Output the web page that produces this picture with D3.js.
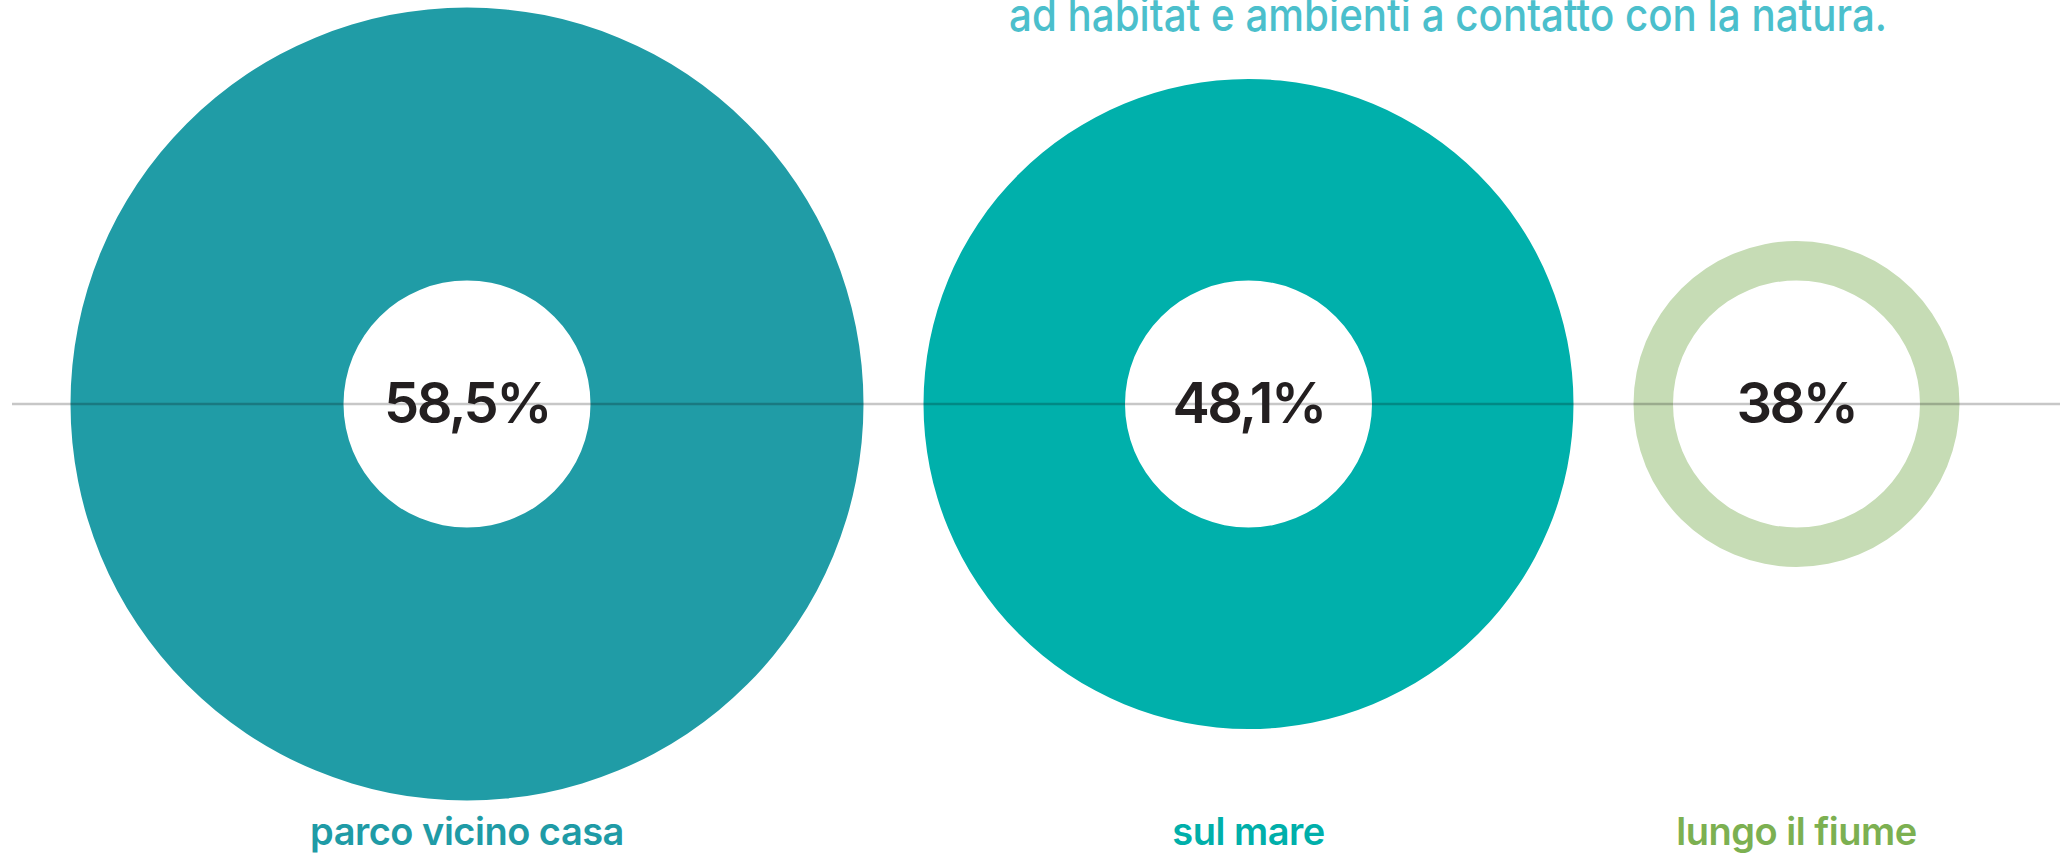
<!DOCTYPE html>
<html>
<head>
<meta charset="utf-8">
<script src="https://cdn.jsdelivr.net/npm/d3@7"></script>
<style>
    html, body { margin: 0; padding: 0; background: #ffffff; }
    svg { display: block; }
</style>
</head>
<body>
<div id="chart"></div>
<script>

// data
var places = [ 'parco vicino casa', 'sul mare', 'lungo il fiume' ];
var shares = [ 58.5, 48.1, 38 ];
var shareLabels = [ '58,5%', '48,1%', '38%' ];
var ringColors = [ '#209ca6', '#00b0ab', '#c6dcb5' ];
var labelColors = [ '#1f9ba6', '#00afaa', '#7cb051' ];
var headerLines = [ 'ad habitat e ambienti a contatto con la natura.' ];

var width = 2060,
    height = 855,
    centerY = 404,
    holeRadius = 123.5,
    gap = 60,
    left = 70.5;

// the designer did not size the circles on one straight scale,
// so the scale is piecewise
var radius = d3.scaleLinear()
    .domain([ 38, 48.1, 58.5 ])
    .range([ 163, 325, 396.5 ]);

var svg = d3.select('#chart').append('svg')
    .attr('width', width)
    .attr('height', height);

// pack the circles side by side
var items = [];
var x = left;

places.forEach( function ( p, i ) {

    var r = radius( shares[ i ] );

    items.push({
        place: p,
        label: shareLabels[ i ],
        r: r,
        cx: x + r,
        ring: ringColors[ i ],
        color: labelColors[ i ]
    });

    x += 2 * r + gap;

});

var arc = d3.arc()
    .innerRadius( holeRadius )
    .startAngle( 0 )
    .endAngle( 2 * Math.PI );

svg.selectAll('.ring')
    .data( items )
    .enter().append('path')
    .attr('class', 'ring')
    .attr('transform', function ( d ) { return 'translate(' + d.cx + ',' + centerY + ')'; })
    .attr('d', function ( d ) { return arc.outerRadius( d.r )(); })
    .style('fill', function ( d ) { return d.ring; });

// horizon line, drawn over the rings
svg.append('line')
    .attr('x1', 12)
    .attr('x2', width)
    .attr('y1', centerY)
    .attr('y2', centerY)
    .style('stroke', '#000000')
    .style('stroke-opacity', 0.22)
    .style('stroke-width', 2.5);

svg.selectAll('.share')
    .data( items )
    .enter().append('text')
    .attr('class', 'share')
    .attr('x', function ( d ) { return d.cx; })
    .attr('y', centerY + 19)
    .attr('text-anchor', 'middle')
    .style('font-family', 'Inter, "Noto Sans", sans-serif')
    .style('font-weight', 600)
    .style('font-size', '56px')
    .style('letter-spacing', '-2.5px')
    .style('fill', '#231f20')
    .text( function ( d ) { return d.label; });

svg.selectAll('.place')
    .data( items )
    .enter().append('text')
    .attr('class', 'place')
    .attr('x', function ( d ) { return d.cx; })
    .attr('y', 845)
    .attr('text-anchor', 'middle')
    .style('font-family', 'Inter, "Noto Sans", sans-serif')
    .style('font-weight', 600)
    .style('font-size', '38px')
    .style('letter-spacing', '-0.5px')
    .style('fill', function ( d ) { return d.color; })
    .text( function ( d ) { return d.place; });

// the header font is condensed, so squeeze it to its measured width
svg.selectAll('.header')
    .data( headerLines )
    .enter().append('text')
    .attr('class', 'header')
    .attr('x', 1009)
    .attr('y', 31)
    .attr('textLength', 878)
    .attr('lengthAdjust', 'spacingAndGlyphs')
    .style('font-family', 'Inter, "Noto Sans", sans-serif')
    .style('font-weight', 500)
    .style('font-size', '45px')
    .style('fill', '#4bbfcc')
    .text( function ( d ) { return d; });

</script>
</body>
</html>
